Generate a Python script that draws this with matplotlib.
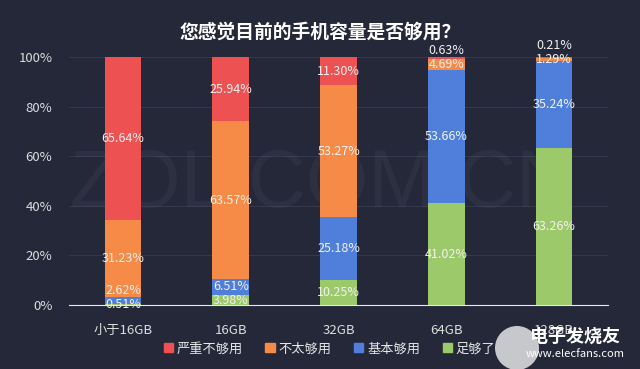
import matplotlib.pyplot as plt
from matplotlib.patches import Ellipse
import numpy as np

plt.rcParams['font.family'] = ['Noto Sans CJK SC', 'DejaVu Sans']

categories = ['小于16GB', '16GB', '32GB', '64GB', '128GB']
series_names = ['严重不够用', '不太够用', '基本够用', '足够了']
# stacked bottom -> top: 足够了, 基本够用, 不太够用, 严重不够用
enough = [0.51, 3.98, 10.25, 41.02, 63.26]
basic = [2.62, 6.51, 25.18, 53.66, 35.24]
not_quite = [31.23, 63.57, 53.27, 4.69, 1.29]
severe = [65.64, 25.94, 11.30, 0.63, 0.21]

bg = '#252839'
colors = {'严重不够用': '#ee5152', '不太够用': '#f68b48', '基本够用': '#4f7fdb', '足够了': '#9cc96a'}
stack = [('足够了', enough), ('基本够用', basic), ('不太够用', not_quite), ('严重不够用', severe)]

fig = plt.figure(figsize=(6.4, 3.69), dpi=100, facecolor=bg)
ax = fig.add_axes([0.108, 0.1734, 0.842, 0.672])
ax.set_facecolor(bg)

x = np.arange(len(categories))
bottom = np.zeros(len(categories))
label_pos = [[] for _ in categories]
for name, vals in stack:
    vals = np.array(vals)
    ax.bar(x, vals, bottom=bottom, width=0.34, color=colors[name], zorder=3)
    for i in range(len(categories)):
        label_pos[i].append((bottom[i] + vals[i] / 2, vals[i]))
    bottom += vals

# value labels, pushed apart when segments are thin
for i, items in enumerate(label_pos):
    prev = -10
    for center, v in items:
        y = max(center, prev + 5.5)
        ax.text(x[i], y, f'{v:.2f}%', ha='center', va='center', color='#f2f2f2',
                fontsize=9, zorder=5)
        prev = y

ax.set_xlim(-0.5, 4.5)
ax.set_ylim(0, 100)
ax.set_yticks([0, 20, 40, 60, 80, 100])
ax.set_yticklabels([f'{v}%' for v in [0, 20, 40, 60, 80, 100]])
ax.set_xticks(x)
ax.set_xticklabels(categories)
ax.tick_params(axis='both', length=0, colors='#dddddd', labelsize=9.5)
ax.tick_params(axis='y', pad=12)
ax.tick_params(axis='x', pad=14)
for s in ['top', 'right', 'left']:
    ax.spines[s].set_visible(False)
ax.spines['bottom'].set_color('#e8e8e8')
ax.spines['bottom'].set_zorder(6)
ax.grid(axis='y', color='#34384c', linewidth=0.8, zorder=0)
ax.set_axisbelow(True)

# watermark
ax.text(1.85, 48, 'ZOL.COM.CN', ha='center', va='center', fontsize=58,
        color='white', alpha=0.04, family='Liberation Sans', zorder=2)

fig.text(0.5, 0.913, '您感觉目前的手机容量是否够用？', ha='center', va='center',
         color='white', fontsize=13.5, fontweight='bold')

# legend
handles = [plt.Rectangle((0, 0), 1, 1, color=colors[n]) for n in series_names]
leg = fig.legend(handles, series_names, loc='center', bbox_to_anchor=(0.515, 0.055),
                 ncol=4, frameon=False, fontsize=9.5, handlelength=0.7, handleheight=0.7,
                 handletextpad=0.3, columnspacing=1.7)
for t in leg.get_texts():
    t.set_color('#e6e6e6')

# elecfans mark
fig.patches.append(Ellipse((517 / 640, 1 - 348 / 369), 44 / 640, 44 / 369,
                           transform=fig.transFigure, facecolor='white', alpha=0.75,
                           edgecolor='none'))
fig.text(0.898, 0.088, '电子发烧友', ha='center', va='center', color='white',
         fontsize=13, fontweight='bold', style='italic')
fig.text(0.898, 0.04, 'www.elecfans.com', ha='center', va='center', color='white',
         fontsize=8)

fig.savefig('out.png', dpi=100, facecolor=bg)
